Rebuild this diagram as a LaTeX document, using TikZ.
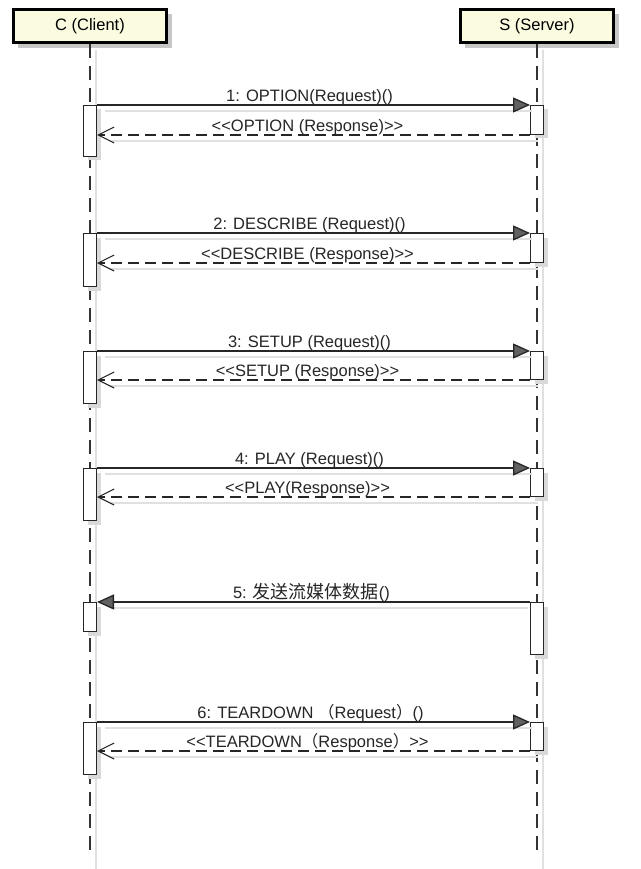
\documentclass[tikz,border=0pt]{standalone}
\usepackage{fontspec}
\setmainfont{Liberation Sans}
\newfontfamily\cjk{Noto Sans CJK SC}
\usetikzlibrary{arrows.meta,calc,shadows}
\definecolor{headfill}{RGB}{251,251,224}
\newcommand\LL{<\kern0pt<}
\newcommand\GG{>\kern0pt>}
\begin{document}
\begin{tikzpicture}[x=1pt,y=-1pt,
  head/.style={draw=black, line width=2.6pt, fill=headfill, minimum width=153.4pt, minimum height=33.4pt, inner sep=0pt,
    font=\fontsize{16.5}{18}\selectfont,
    drop shadow={shadow xshift=5pt, shadow yshift=-5pt, fill=black!22, opacity=1}},
  life/.style={draw=black!80, line width=1.5pt, dash pattern=on 14pt off 8pt},
  shad/.style={draw=black!12, line width=1.5pt},
  act/.style={draw=black!85, line width=1pt, fill=white, minimum width=13pt, inner sep=0pt, anchor=north,
    drop shadow={shadow xshift=4pt, shadow yshift=-4pt, fill=black!15, opacity=1}},
  req/.style={draw=black!85, line width=1.3pt, -{Triangle[length=17pt,width=15pt,fill=black!62]}},
  resp/.style={draw=black!85, line width=1.3pt, dash pattern=on 11pt off 6pt, -{Straight Barb[length=16pt,width=16pt,line width=1.1pt]}},
  lbl/.style={font=\fontsize{16.5}{18}\selectfont, inner sep=0pt, anchor=base, text=black!85}
]
\useasboundingbox[fill=white] (0,0) rectangle (640,869);

% lifeline shadows
\draw[shad] (96,50) -- (96,869);
\draw[shad] (543,50) -- (543,869);

% headers
\node[head] (C) at (90,26) {\raisebox{3pt}{C (Client)}};
\node[head] (S) at (537,26) {\raisebox{3pt}{S (Server)}};

\coordinate (Cend) at (90,852);
\coordinate (Send) at (537,852);
\draw[life] (C.south) -- (Cend);
\draw[life] (S.south) -- (Send);

% activation boxes
\foreach \i/\t/\b/\st/\sb in {1/105/157/105/135, 2/233/287/233/263, 3/351/404/351/380, 4/468/521/468/497, 5/602/632/602/655, 6/722/775/722/751}{
  \pgfmathsetmacro\ch{\b-\t-1}
  \pgfmathsetmacro\sh{\sb-\st-1}
  \node[act, minimum height=\ch pt] (ca\i) at (90,\t) {};
  \node[act, minimum height=\sh pt] (sa\i) at (537,\st) {};
}

% request/response pairs
\foreach \i in {1,2,3,4,6}{
  \draw[shad] ([shift={(8,6)}]ca\i.north east) -- ([shift={(2,6)}]sa\i.north west);
  \draw[shad] ([shift={(8,6)}]sa\i.south west) -- ([shift={(14,6)}]sa\i.south west -| ca\i.east);
  \draw[req] (ca\i.north east) -- (sa\i.north west);
  \draw[resp] (sa\i.south west) -- (sa\i.south west -| ca\i.east);
}

% message 5
\draw[shad] ([shift={(-2,6)}]sa5.north west) -- ([shift={(14,6)}]ca5.north east);
\draw[req] (sa5.north west) -- (ca5.north east);

% labels
\node[lbl] (l1) at ($(ca1.north east)!0.5!(sa1.north west)+(-4,-3.5)$) {1: OPTION(Request)()};
\node[lbl] (r1) at ($(sa1.south west)!0.5!(sa1.south west -| ca1.east)+(-6,-3.5)$) {\LL OPTION (Response)\GG};
\node[lbl] (l2) at ($(ca2.north east)!0.5!(sa2.north west)+(-4,-3.5)$) {2: DESCRIBE (Request)()};
\node[lbl] (r2) at ($(sa2.south west)!0.5!(sa2.south west -| ca2.east)+(-6,-3.5)$) {\LL DESCRIBE (Response)\GG};
\node[lbl] (l3) at ($(ca3.north east)!0.5!(sa3.north west)+(-4,-3.5)$) {3: SETUP (Request)()};
\node[lbl] (r3) at ($(sa3.south west)!0.5!(sa3.south west -| ca3.east)+(-6,-3.5)$) {\LL SETUP (Response)\GG};
\node[lbl] (l4) at ($(ca4.north east)!0.5!(sa4.north west)+(-4,-3.5)$) {4: PLAY (Request)()};
\node[lbl] (r4) at ($(sa4.south west)!0.5!(sa4.south west -| ca4.east)+(-6,-3.5)$) {\LL PLAY(Response)\GG};
\node[lbl] (l5) at ($(ca5.north east)!0.5!(sa5.north west)+(-2,-3.5)$) {5: {\cjk\fontsize{18}{20}\selectfont 发送流媒体数据}()};
\node[lbl] (l6) at ($(ca6.north east)!0.5!(sa6.north west)+(-3,-3.5)$) {6: TEARDOWN {\cjk （}Request{\cjk ）}()};
\node[lbl] (r6) at ($(sa6.south west)!0.5!(sa6.south west -| ca6.east)+(-6,-3.5)$) {\LL TEARDOWN{\cjk （}Response{\cjk ）}\GG};
\end{tikzpicture}
\end{document}
